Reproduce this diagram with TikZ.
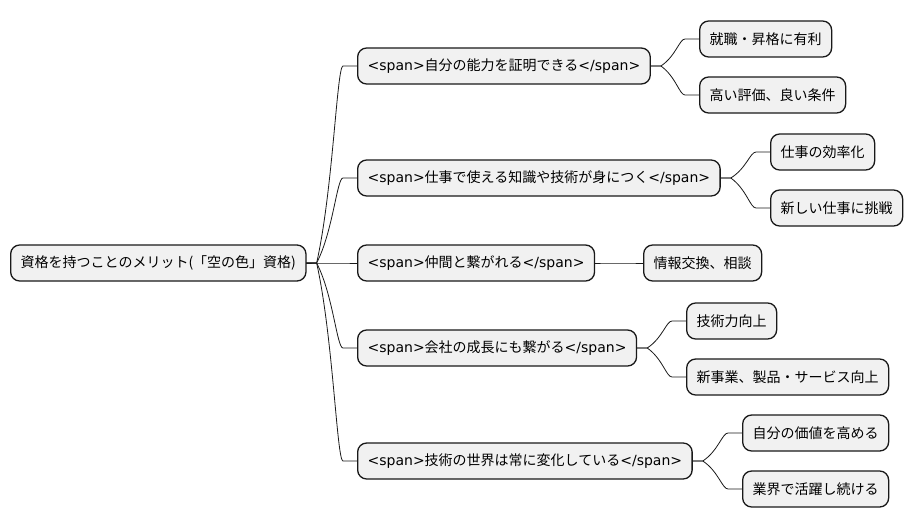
\documentclass[tikz,border=0pt]{standalone}
\usepackage{fontspec}
\setmainfont{DejaVu Sans}
\newfontfamily\jp{Noto Sans CJK JP}
\usetikzlibrary{calc}
\definecolor{boxfill}{HTML}{F1F1F1}
\newcommand{\spanned}[1]{<span>{\jp #1}</span>}
% curved branch from a parent to a child
\newcommand{\mmbranch}[2]{%
  \draw[edge] let \p1=($(#1.east)+(10,0)$), \p2=($(#2.west)+(-14,0)$) in
    (#1.east) -- (\p1)
    .. controls ({\x1+0.62*(\x2-\x1)},{\y1+0.37*(\y2-\y1)}) and ({\x2-0.23*(\x2-\x1)},\y2) .. (\p2)
    -- (#2.west);}
\begin{document}
\begin{tikzpicture}[x=1pt,y=-1pt,line cap=round,line join=round,
  box/.style={draw=black!90,line width=1.3pt,fill=boxfill,rounded corners=9pt,
    anchor=west,minimum height=36pt,inner xsep=10pt,inner ysep=0pt,
    font=\fontsize{14}{16}\selectfont},
  edge/.style={line width=0.8pt,black!90}]
  \useasboundingbox (0,0) rectangle (912,527);
  % root
  \node[box] (root) at (10,263) {\jp 資格を持つことのメリット(「空の色」資格)};
  % first level
  \node[box] (n1) at (357,66)  {\spanned{自分の能力を証明できる}};
  \node[box] (n2) at (357,178) {\spanned{仕事で使える知識や技術が身につく}};
  \node[box] (n3) at (357,263) {\spanned{仲間と繋がれる}};
  \node[box] (n4) at (357,348) {\spanned{会社の成長にも繋がる}};
  \node[box] (n5) at (357,461) {\spanned{技術の世界は常に変化している}};
  % second level
  \node[box] (c11) at (699,39)  {\jp 就職・昇格に有利};
  \node[box] (c12) at (699,95)  {\jp 高い評価、良い条件};
  \node[box] (c21) at (770,152) {\jp 仕事の効率化};
  \node[box] (c22) at (770,208) {\jp 新しい仕事に挑戦};
  \node[box] (c31) at (643,263) {\jp 情報交換、相談};
  \node[box] (c41) at (686,321) {\jp 技術力向上};
  \node[box] (c42) at (686,377) {\jp 新事業、製品・サービス向上};
  \node[box] (c51) at (742,433) {\jp 自分の価値を高める};
  \node[box] (c52) at (742,489) {\jp 業界で活躍し続ける};
  % branches
  \foreach \src/\dst in {root/n1,root/n2,root/n3,root/n4,root/n5,
                         n1/c11,n1/c12,n2/c21,n2/c22,n3/c31,
                         n4/c41,n4/c42,n5/c51,n5/c52}
    {\mmbranch{\src}{\dst}}
\end{tikzpicture}
\end{document}
